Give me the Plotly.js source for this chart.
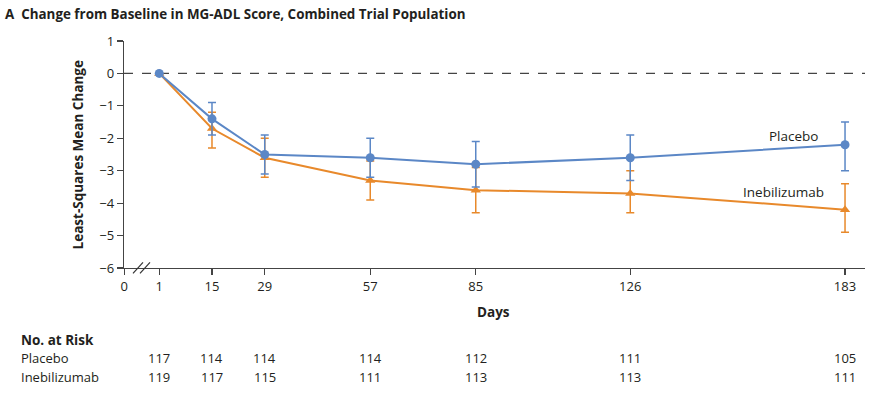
<!DOCTYPE html>
<html>
<head>
<meta charset="utf-8">
<script src="https://cdn.plot.ly/plotly-3.0.1.min.js"></script>
<style>html,body{margin:0;padding:0;background:#fff;}#chart{width:882px;height:398px;}</style>
</head>
<body>
<div id="chart"></div>
<script>
// ---- data ----
const days = [1, 15, 29, 57, 85, 126, 183];
const tickVals = [-8.3, 1, 15, 29, 57, 85, 126, 183];   // -8.3 = broken-axis position of day 0
const tickText = ['0', '1', '15', '29', '57', '85', '126', '183'];

const placeboMean  = [0, -1.4, -2.5, -2.6, -2.8, -2.6, -2.2];
const placeboUpper = [0, -0.9, -1.9, -2.0, -2.1, -1.9, -1.5];
const placeboLower = [0, -1.9, -3.1, -3.2, -3.5, -3.3, -3.0];

const inebMean  = [0, -1.7, -2.6, -3.3, -3.6, -3.7, -4.2];
const inebUpper = [0, -1.2, -2.0, -2.7, -2.9, -3.0, -3.4];
const inebLower = [0, -2.3, -3.2, -3.9, -4.3, -4.3, -4.9];

const riskPlacebo = [117, 114, 114, 114, 112, 111, 105];
const riskIneb    = [119, 117, 115, 111, 113, 113, 111];

const BLUE = '#5b87c6';
const ORANGE = '#e8892b';
const TXT = '#231f20';
const FONT = '"Open Sans", "DejaVu Sans", sans-serif';

function errs(mean, hi, lo) {
  return {
    type: 'data', symmetric: false,
    array: mean.map((m, i) => hi[i] - m),
    arrayminus: mean.map((m, i) => m - lo[i]),
    thickness: 1.5, width: 4, visible: true
  };
}
const errP = errs(placeboMean, placeboUpper, placeboLower);
const errI = errs(inebMean, inebUpper, inebLower);

const traces = [
  {
    x: days, y: inebMean, type: 'scatter', mode: 'lines+markers', name: 'Inebilizumab',
    line: {color: ORANGE, width: 2},
    marker: {symbol: 'triangle-up', size: 9, color: ORANGE},
    error_y: Object.assign({color: ORANGE}, errI),
    cliponaxis: false, hoverinfo: 'skip'
  },
  {
    x: days, y: placeboMean, type: 'scatter', mode: 'lines+markers', name: 'Placebo',
    line: {color: BLUE, width: 2},
    marker: {symbol: 'circle', size: 9, color: BLUE},
    error_y: Object.assign({color: BLUE}, errP),
    cliponaxis: false, hoverinfo: 'skip'
  }
];

const plotL = 124, plotW = 741, plotT = 40.6, plotH = 227;
const py = px => (plotT + plotH - px) / plotH;   // pixel row -> paper y
const pxx = px => (px - plotL) / plotW;          // pixel col -> paper x

function ann(o) {
  return Object.assign({showarrow: false, xanchor: 'center', yanchor: 'middle'}, o);
}

const annotations = [
  ann({xref: 'x', yref: 'y', x: 169.2, y: -1.94, text: 'Placebo',
   font: {family: FONT, size: 13.5, color: TXT}}),
  ann({xref: 'x', yref: 'y', x: 166.8, y: -3.67, text: 'Inebilizumab',
   font: {family: FONT, size: 13.5, color: TXT}}),
  ann({xref: 'paper', yref: 'paper', x: pxx(493), y: py(312), text: '<b>Days</b>',
   font: {family: FONT, size: 13.5, color: TXT}}),
  ann({xref: 'paper', yref: 'paper', x: pxx(78), y: py(155), text: '<b>Least-Squares Mean Change</b>',
   textangle: -90, font: {family: FONT, size: 13.5, color: TXT}}),
  ann({xref: 'paper', yref: 'paper', x: pxx(19), y: py(340), xanchor: 'left', text: '<b>No. at Risk</b>',
   font: {family: FONT, size: 13.5, color: TXT}}),
  ann({xref: 'paper', yref: 'paper', x: pxx(19), y: py(358), xanchor: 'left', text: 'Placebo',
   font: {family: FONT, size: 13, color: TXT}}),
  ann({xref: 'paper', yref: 'paper', x: pxx(19), y: py(377), xanchor: 'left', text: 'Inebilizumab',
   font: {family: FONT, size: 13, color: TXT}})
];
days.forEach((d, i) => {
  annotations.push(ann({xref: 'x', yref: 'paper', x: d, y: py(358), text: String(riskPlacebo[i]),
    font: {family: FONT, size: 13, color: TXT}}));
  annotations.push(ann({xref: 'x', yref: 'paper', x: d, y: py(377), text: String(riskIneb[i]),
    font: {family: FONT, size: 13, color: TXT}}));
});

const shapes = [
  {type: 'line', xref: 'paper', yref: 'y', x0: 0, x1: 1, y0: 0, y1: 0,
   line: {color: '#444', width: 1.2, dash: 'dash'}, layer: 'below'},
  // axis-break marks
  {type: 'line', xref: 'paper', yref: 'paper', x0: pxx(133), x1: pxx(143), y0: py(273), y1: py(262),
   line: {color: '#333', width: 1.2}},
  {type: 'line', xref: 'paper', yref: 'paper', x0: pxx(140), x1: pxx(150), y0: py(273), y1: py(262),
   line: {color: '#333', width: 1.2}}
];

const layout = {
  width: 882, height: 398,
  margin: {l: plotL, r: 882 - plotL - plotW, t: plotT, b: 398 - plotT - plotH, pad: 0},
  paper_bgcolor: '#fff', plot_bgcolor: '#fff',
  showlegend: false,
  title: {text: '<b>A  Change from Baseline in MG-ADL Score, Combined Trial Population</b>',
          x: 5 / 882, xanchor: 'left', xref: 'container', y: 1 - 14 / 398, yanchor: 'middle', yref: 'container',
          font: {family: FONT, size: 13.4, color: TXT}},
  xaxis: {
    range: [-8.35, 188.3], tickmode: 'array', tickvals: tickVals, ticktext: tickText,
    showgrid: false, zeroline: false, showline: true, linecolor: '#444', linewidth: 1.2,
    ticks: 'outside', ticklen: 6, tickcolor: '#444', tickwidth: 1.2,
    tickfont: {family: FONT, size: 13, color: TXT}, fixedrange: true
  },
  yaxis: {
    range: [-6, 1], tickmode: 'array', tickvals: [1, 0, -1, -2, -3, -4, -5, -6],
    ticktext: ['1', '0', '\u22121', '\u22122', '\u22123', '\u22124', '\u22125', '\u22126'],
    showgrid: false, zeroline: false, showline: true, linecolor: '#444', linewidth: 1.2,
    ticks: 'outside', ticklen: 6, tickcolor: '#444', tickwidth: 1.2,
    tickfont: {family: FONT, size: 13, color: TXT}, fixedrange: true
  },
  annotations: annotations,
  shapes: shapes
};

Plotly.newPlot('chart', traces, layout, {staticPlot: true, displayModeBar: false});
</script>
</body>
</html>
